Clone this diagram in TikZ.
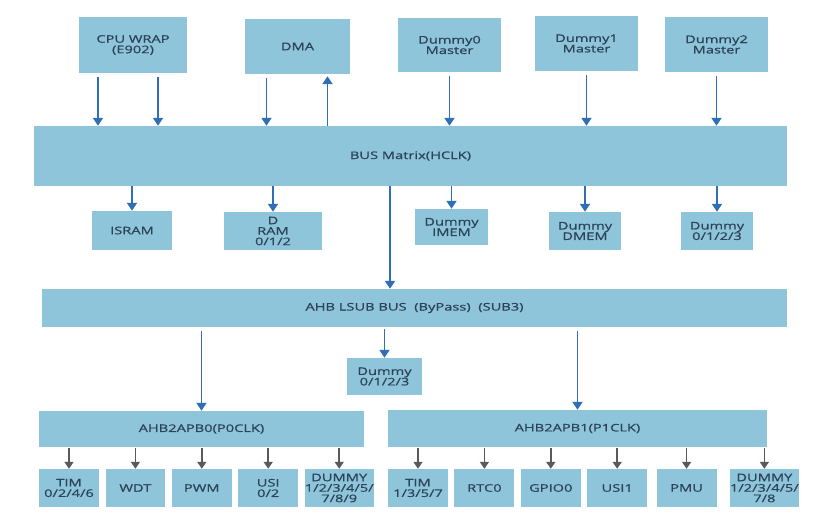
\documentclass[tikz,border=0pt]{standalone}
\usepackage{fontspec}
\setmainfont[FakeStretch=1.4,FakeBold=0.7]{Open Sans}
\usetikzlibrary{positioning,arrows.meta,calc}
\definecolor{boxblue}{HTML}{8FC5DA}
\definecolor{linkblue}{HTML}{2F6FB8}
\definecolor{linkgray}{HTML}{5A5A5A}
\definecolor{labelink}{HTML}{2B4257}

\begin{document}
\begin{tikzpicture}[x=1bp, y=-1bp, node distance=6.5bp,
    every node/.style={font=\fontsize{10.5}{10.5}\selectfont, text=labelink},
    blk/.style={fill=boxblue, inner sep=0pt, align=center},
    hop/.style={-{Triangle[length=8bp,width=10bp]}, linkblue, line width=1.8bp},
    tap/.style={-{Triangle[length=7bp,width=9bp]}, linkgray, line width=1.6bp}]
  \useasboundingbox (0,0) rectangle (831,523);
  % masters
  \node[blk, minimum width=108bp, minimum height=56bp] (cpu) at (133,45) {CPU WRAP\\(E902)};
  \node[blk, minimum width=105bp, minimum height=55bp] (dma) at (297.5,46.5) {DMA};
  \node[blk, minimum width=103bp, minimum height=54bp] (mst0) at (449.5,45) {Dummy0\\Master};
  \node[blk, minimum width=103bp, minimum height=55bp] (mst1) at (586.5,43.5) {Dummy1\\Master};
  \node[blk, minimum width=103bp, minimum height=55bp] (mst2) at (716.5,44.5) {Dummy2\\Master};
  % buses
  \node[blk, minimum width=753bp, minimum height=60bp] (busmx) at (410.5,156) {BUS Matrix(HCLK)};
  \node[blk, minimum width=745bp, minimum height=38bp] (lsub) at (414.5,308) {AHB LSUB BUS\ \ (ByPass)\ \ (SUB3)};
  % slaves on the matrix
  \node[blk, minimum width=80bp, minimum height=39bp] (isram) at (132,230.5) {ISRAM};
  \node[blk, minimum width=98bp, minimum height=38bp] (dram) at (273,231) {D\\RAM\\0/1/2};
  \node[blk, minimum width=73bp, minimum height=36bp] (imem) at (451.5,227) {Dummy\\IMEM};
  \node[blk, minimum width=72bp, minimum height=38bp] (dmem) at (585,231) {Dummy\\DMEM};
  \node[blk, minimum width=72bp, minimum height=38bp] (dslv) at (717,231) {Dummy\\0/1/2/3};
  \node[blk, minimum width=75bp, minimum height=37bp] (dslv2) at (384.5,376.5) {Dummy\\0/1/2/3};
  % bridges
  \node[blk, minimum width=325bp, minimum height=36bp] (apb0) at (201.5,429) {AHB2APB0(P0CLK)};
  \node[blk, minimum width=379bp, minimum height=37bp] (apb1) at (577.5,428.5) {AHB2APB1(P1CLK)};
  % peripherals
  \begin{scope}[every node/.append style={blk, minimum width=59.5bp, minimum height=38bp}]
    \node (tim0) at (69,488) {TIM\\0/2/4/6};
    \node[right=of tim0] (wdt) {WDT};
    \node[right=of wdt] (pwm) {PWM};
    \node[right=of pwm] (usi0) {USI\\0/2};
    \node[right=of usi0] (dmy0) {DUMMY\\1/2/3/4/5/\\7/8/9};
    \node[minimum width=60bp] (tim1) at (418,488) {TIM\\1/3/5/7};
    \node[minimum width=60bp, right=6bp of tim1] (rtc) {RTC0};
    \node[minimum width=60bp, right=6bp of rtc] (gpio) {GPIO0};
    \node[minimum width=60bp, right=6bp of gpio] (usi1) {USI1};
    \node[minimum width=60bp, right=9bp of usi1] (pmu) {PMU};
    \node[minimum width=60bp, right=13bp of pmu] (dmy1) {DUMMY\\1/2/3/4/5/\\7/8};
  \end{scope}

  \draw[hop, shorten <=4bp] ([xshift=-35bp]cpu.south) -- ([xshift=-35bp]cpu.south |- busmx.north);
  \draw[hop, shorten <=4bp] ([xshift=25bp]cpu.south) -- ([xshift=25bp]cpu.south |- busmx.north);
  \draw[hop, shorten <=4bp] ([xshift=-31bp]dma.south) -- ([xshift=-31bp]dma.south |- busmx.north);
  \draw[hop, shorten >=2bp] ([xshift=30bp]dma.south |- busmx.north) -- ([xshift=30bp]dma.south);
  \foreach \m in {mst0,mst1,mst2}
    \draw[hop, shorten <=4bp] (\m) -- (\m |- busmx.north);
  \foreach \s in {isram,dram,imem,dmem,dslv}
    \draw[hop] (\s |- busmx.south) -- (\s);
  \draw[hop] ([xshift=-20.5bp]busmx.south) -- ([xshift=-20.5bp]busmx.south |- lsub.north);
  \draw[hop, shorten <=2bp] (dslv2 |- lsub.south) -- (dslv2);
  \draw[hop, shorten <=4bp] (apb0 |- lsub.south) -- (apb0);
  \draw[hop, shorten <=4bp] (apb1 |- lsub.south) -- (apb1);
  \foreach \p in {tim0,wdt,pwm,usi0,dmy0}
    \draw[tap, shorten <=1bp] (\p |- apb0.south) -- (\p);
  \foreach \p in {tim1,rtc,gpio,usi1,pmu,dmy1}
    \draw[tap, shorten <=1bp] (\p |- apb1.south) -- (\p);
\end{tikzpicture}
\end{document}
